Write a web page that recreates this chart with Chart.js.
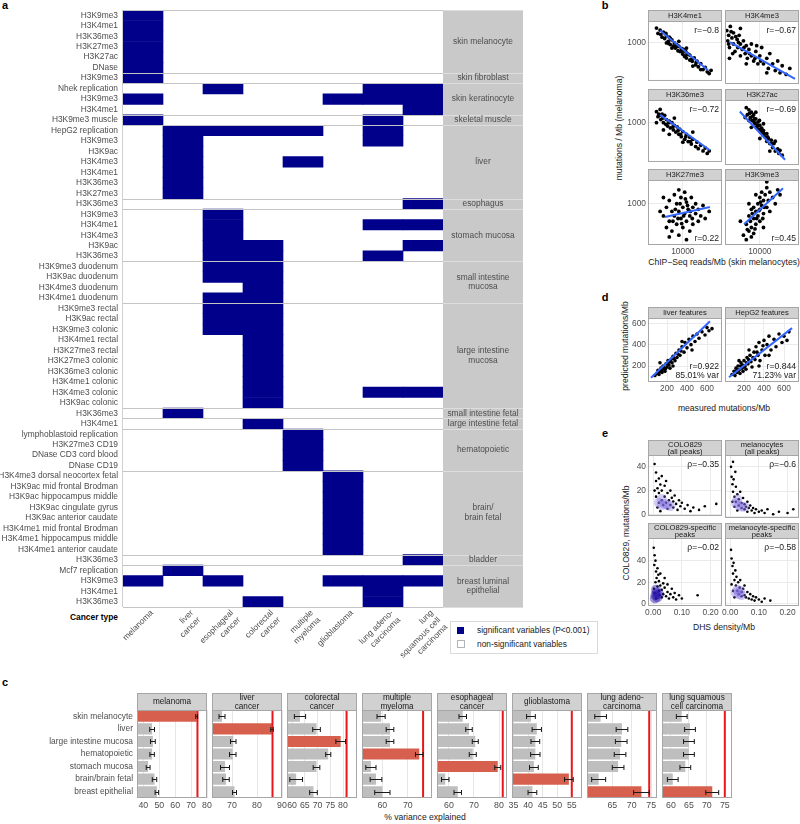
<!DOCTYPE html>
<html>
<head>
<meta charset="utf-8">
<script src="https://cdn.jsdelivr.net/npm/chart.js@4.4.1/dist/chart.umd.min.js"></script>
<style>
body { margin: 0; background: #fff; }
#page { position: relative; width: 800px; height: 824px; overflow: hidden; font-family: "Liberation Sans", Arial, sans-serif; color: #1a1a1a; }
#page canvas { position: absolute; }
.t { position: absolute; white-space: nowrap; font-size: 8.6px; transform: translate(-50%, -50%); }
.v { position: absolute; white-space: nowrap; font-size: 8.6px; transform: translate(-50%, -50%) rotate(-90deg); }
.lbl { position: absolute; white-space: nowrap; font-size: 8.4px; }
.letter { position: absolute; font-weight: bold; font-size: 11px; color: #000; transform: translate(-50%, -50%); }
</style>
</head>
<body>
<div id="page">
  <div class="letter" style="left:5px;top:5px">a</div>
  <div class="letter" style="left:605px;top:5px">b</div>
  <div class="letter" style="left:605px;top:297px">d</div>
  <div class="letter" style="left:605px;top:433px">e</div>
  <div class="letter" style="left:5px;top:682px">c</div>

  <div class="lbl" style="left:20px;width:98px;text-align:right;top:612px;font-weight:bold;color:#000">Cancer type</div>
  <div style="position:absolute;left:450px;top:621px;width:146px;height:31px;border:1px solid #d9d9d9"></div>
  <div style="position:absolute;left:457px;top:627px;width:7px;height:7px;background:#00008b"></div>
  <div class="lbl" style="left:477px;top:625px">significant variables (P&lt;0.001)</div>
  <div style="position:absolute;left:457px;top:640px;width:6px;height:6px;border:1px solid #b3b3b3"></div>
  <div class="lbl" style="left:477px;top:639px">non-significant variables</div>

  <div class="t" style="left:724px;top:262px">ChIP−Seq reads/Mb (skin melanocytes)</div>
  <div class="v" style="left:619px;top:128px">mutations / Mb (melanoma)</div>
  <div class="t" style="left:724px;top:408px">measured mutations/Mb</div>
  <div class="v" style="left:625px;top:346px">predicted mutations/Mb</div>
  <div class="t" style="left:724px;top:627px">DHS density/Mb</div>
  <div class="v" style="left:626px;top:533px">COLO829, mutations/Mb</div>
  <div class="t" style="left:425px;top:817px">% variance explained</div>
</div>
<script>
// ---------- panel a: significant features per cancer type ----------
const rowLabels = [
  'H3K9me3', 'H3K4me1', 'H3K36me3', 'H3K27me3', 'H3K27ac', 'DNase',
  'H3K9me3',
  'Nhek replication', 'H3K9me3', 'H3K4me1',
  'H3K9me3 muscle',
  'HepG2 replication', 'H3K9me3', 'H3K9ac', 'H3K4me3', 'H3K4me1', 'H3K36me3', 'H3K27me3',
  'H3K36me3',
  'H3K9me3', 'H3K4me1', 'H3K4me3', 'H3K9ac', 'H3K36me3',
  'H3K9me3 duodenum', 'H3K9ac duodenum', 'H3K4me3 duodenum', 'H3K4me1 duodenum',
  'H3K9me3 rectal', 'H3K9ac rectal', 'H3K9me3 colonic', 'H3K4me1 rectal', 'H3K27me3 rectal',
  'H3K27me3 colonic', 'H3K36me3 colonic', 'H3K4me1 colonic', 'H3K4me3 colonic', 'H3K9ac colonic',
  'H3K36me3',
  'H3K4me1',
  'lymphoblastoid replication', 'H3K27me3 CD19', 'DNase CD3 cord blood', 'DNase CD19',
  'H3K4me3 dorsal neocortex fetal', 'H3K9ac mid frontal Brodman', 'H3K9ac hippocampus middle',
  'H3K9ac cingulate gyrus', 'H3K9ac anterior caudate', 'H3K4me1 mid frontal Brodman',
  'H3K4me1 hippocampus middle', 'H3K4me1 anterior caudate',
  'H3K36me3',
  'Mcf7 replication', 'H3K9me3', 'H3K4me1', 'H3K36me3'
];
const groupNames = ['skin melanocyte', 'skin fibroblast', 'skin keratinocyte', 'skeletal muscle', 'liver',
  'esophagus', 'stomach mucosa', 'small intestine\nmucosa', 'large intestine\nmucosa', 'small intestine fetal',
  'large intestine fetal', 'hematopoietic', 'brain/\nbrain fetal', 'bladder', 'breast luminal\nepithelial'];
const groupSizes = [6, 1, 3, 1, 7, 1, 5, 4, 10, 1, 1, 4, 8, 1, 4];
const cancerTypes = [['melanoma'], ['liver', 'cancer'], ['esophageal', 'cancer'], ['colorectal', 'cancer'],
  ['multiple', 'myeloma'], ['glioblastoma'], ['lung adeno-', 'carcinoma'], ['lung', 'squamous cell', 'carcinoma']];
// row indices of significant variables, one list per cancer type
const sigRows = [
  [0, 1, 2, 3, 4, 5, 6, 8, 10, 54],
  [11, 12, 13, 14, 15, 16, 17, 38, 53],
  [7, 11, 19, 20, 21, 22, 23, 24, 25, 27, 28, 29, 30, 54],
  [11, 22, 23, 24, 25, 26, 27, 28, 29, 30, 31, 32, 33, 34, 35, 36, 37, 39, 56],
  [11, 14, 40, 41, 42, 43],
  [8, 44, 45, 46, 47, 48, 49, 50, 51, 54],
  [7, 8, 10, 11, 12, 20, 23, 36, 54, 55, 56],
  [7, 8, 9, 18, 20, 22, 36, 52, 54]
];

// ---------- panel b: ChIP-seq vs mutations ----------
const bTitles = ['H3K4me1', 'H3K4me3', 'H3K36me3', 'H3K27ac', 'H3K27me3', 'H3K9me3'];
const bR = ['r=−0.8', 'r=−0.67', 'r=−0.72', 'r=−0.69', 'r=0.22', 'r=0.45'];
const bK4me1 = [[5000,1600],[5200,1350],[5500,1500],[5800,1200],[6000,1400],[6200,1150],[6500,1250],[6800,1050],
  [7000,1200],[7200,950],[7500,1100],[7800,900],[8000,1000],[8200,850],[8500,950],[8800,780],[9000,900],[9300,760],
  [9600,840],[10000,700],[10000,820],[10500,650],[10800,760],[11000,620],[11500,700],[12000,580],[12000,680],
  [12800,560],[13500,620],[14000,500],[14500,560],[15000,470],[16000,520],[17000,430],[18000,460],[19000,400],
  [20000,380],[21000,420],[6500,1000],[9000,1050],[13000,480],[7500,850],[11000,850],[16000,430],
  [5600,1300],[6400,1350],[7200,1150],[8400,880],[9800,760],[11200,700],[12500,600],[14200,540],[6900,980],[10300,800]];
const bK4me3 = [[4200,1500],[4300,1100],[4400,1300],[4500,900],[4600,1700],[4800,1200],[5000,1000],[5000,1400],
  [5200,800],[5500,1150],[5600,900],[5800,1300],[6000,700],[6000,1000],[6300,850],[6500,1100],[6800,750],[7000,950],
  [7200,650],[7500,850],[8000,700],[8000,1000],[8500,600],[9000,800],[9500,550],[10000,700],[10500,900],[11000,550],
  [12000,650],[12500,480],[13000,750],[14000,550],[15000,450],[16000,600],[17000,420],[18000,520],[20000,400],
  [22000,480],[4500,650],[7000,550],[6000,1600],[12000,420],
  [4400,1000],[4700,1450],[5300,1250],[5700,1050],[6600,900],[7600,750],[8800,650],[10200,600],[4900,750],[9200,950]];
const bK36me3 = [[5000,1400],[5200,1200],[5500,1500],[5600,1100],[5800,1300],[6000,1000],[6200,1250],[6500,1100],
  [6700,900],[7000,1050],[7200,850],[7500,1000],[7800,800],[8000,920],[8300,750],[8600,880],[9000,700],[9200,820],
  [9600,650],[10000,760],[10500,600],[11000,700],[11500,560],[12000,640],[12500,520],[13000,600],[14000,480],
  [14500,550],[15000,450],[16000,500],[17000,420],[18000,460],[19000,390],[20000,420],[6000,800],[8000,1150],
  [10000,550],[13000,750],[5000,1000],[7000,700],
  [5300,1300],[5900,1150],[6400,950],[6900,1000],[7700,880],[8800,780],[10800,650],[12200,560],[5500,1250],[9400,700]];
const bK27ac = [[7000,1600],[7200,1300],[7500,1500],[7800,1200],[8000,1400],[8200,1100],[8500,1300],[8800,1000],
  [9000,1150],[9200,900],[9500,1050],[9800,850],[10000,950],[10200,780],[10500,880],[10800,720],[11000,820],
  [11500,680],[12000,750],[12000,600],[12500,650],[13000,560],[13500,620],[14000,500],[14500,560],[15000,450],
  [16000,480],[16500,420],[17000,460],[18000,400],[8000,900],[9000,1400],[11000,1000],[13000,450],[7500,1100],
  [10000,650],[6800,1200],[15000,600],
  [7600,1350],[8300,1250],[8700,1150],[9400,950],[10400,800],[11200,750],[12300,680],[13800,560],[8600,1050],[9900,1100]];
const bK27me3 = [[6000,700],[6500,500],[6500,900],[7000,600],[7000,1100],[7500,800],[7500,450],[8000,1300],
  [8000,700],[8500,550],[8500,1000],[9000,800],[9000,400],[9500,1200],[9500,650],[10000,900],[10000,500],
  [10500,1400],[10500,750],[11000,600],[11000,1050],[11500,850],[12000,450],[12000,700],[12500,1200],[13000,900],
  [13000,550],[14000,750],[14000,1000],[15000,600],[15000,850],[16000,700],[17000,950],[18000,650],[5500,800],
  [6000,1200],[20000,800],[7000,380],[9000,1500],[11000,350],
  [8200,850],[9300,1000],[10200,700],[11300,950],[12200,800],[9700,560],[8800,650],[12800,650],[10700,1150],[7700,600]];
const bK9me3 = [[6500,400],[7000,350],[7000,550],[7500,450],[7500,700],[8000,500],[8000,380],[8500,650],[8500,900],
  [9000,550],[9000,800],[9500,700],[9500,1000],[10000,600],[10000,1200],[10000,850],[10500,950],[10500,1400],
  [11000,750],[11000,1100],[11500,1300],[12000,900],[12000,1600],[12500,1100],[13000,1400],[13000,800],[14000,1200],
  [15000,1000],[16000,1500],[6000,600],[7500,1000],[8500,420],[9000,1300],[11000,500],[12000,1900],[17000,1300],
  [7200,470],[7800,600],[8200,750],[8800,480],[9200,650],[9800,820],[10200,1050],[10800,650],[11200,900],[8000,850]];
const bPoints = [bK4me1, bK4me3, bK36me3, bK27ac, bK27me3, bK9me3];
const bFits = [
  [[5500,1480],[19400,420]], [[4560,1060],[25200,350]], [[5500,1270],[20400,430]],
  [[5900,1430],[19400,350]], [[6260,680],[20400,910]], [[6600,550],[18400,1570]]
];

// ---------- panel d: predicted vs measured ----------
const dTitles = ['liver features', 'HepG2 features'];
const dNotes = [['r=0.922', '85.01% var'], ['r=0.844', '71.23% var']];
const dLiver = [[80,110],[100,130],[110,160],[120,120],[130,150],[140,180],[150,140],[160,200],[170,170],[180,150],
  [190,220],[200,190],[210,250],[220,210],[230,180],[240,260],[250,230],[260,290],[280,250],[290,320],[300,280],
  [320,350],[330,300],[350,380],[370,330],[380,420],[400,370],[420,450],[440,400],[460,480],[480,430],[500,500],
  [520,460],[550,520],[580,490],[600,560],[620,530],[650,550],[130,230],[260,200],[350,430],[450,350],
  [120,145],[145,160],[165,185],[185,175],[205,220],[225,240],[250,270],[270,270],[310,310],[340,340]];
const dHepG2 = [[80,120],[100,150],[110,110],[120,180],[130,140],[140,200],[150,160],[160,130],[170,230],[180,180],
  [190,150],[200,250],[210,200],[220,170],[230,280],[240,220],[260,300],[270,240],[280,190],[300,330],[310,260],
  [320,380],[340,300],[350,420],[360,250],[380,350],[400,440],[410,300],[430,400],[450,480],[470,350],[500,450],
  [520,380],[550,500],[580,420],[600,480],[630,440],[650,520],[250,350],[350,200],[450,300],[150,250],
  [120,150],[140,165],[165,200],[185,210],[205,190],[225,230],[245,260],[290,280],[330,330],[390,390]];
const dPoints = [dLiver, dHepG2];
const dFits = [[[40,90],[630,620]], [[50,95],[680,555]]];

// ---------- panel e: DHS density vs mutations ----------
const eTitles = [['COLO829', '(all peaks)'], ['melanocytes', '(all peaks)'], ['COLO829-specific', 'peaks'], ['melanocyte-specific', 'peaks']];
const eRho = ['ρ=−0.35', 'ρ=−0.6', 'ρ=−0.02', 'ρ=−0.58'];
const eColoAll = [[0.005,42],[0.01,35],[0.01,28],[0.015,22],[0.02,30],[0.02,18],[0.025,25],[0.03,12],[0.03,20],
  [0.035,8],[0.04,15],[0.04,24],[0.045,10],[0.05,18],[0.05,5],[0.055,12],[0.06,8],[0.06,20],[0.065,14],[0.07,6],
  [0.07,11],[0.075,16],[0.08,9],[0.085,4],[0.09,12],[0.095,7],[0.1,10],[0.11,5],[0.12,8],[0.13,3],[0.14,6],
  [0.16,4],[0.18,7],[0.015,6],[0.02,10],[0.025,3],[0.01,15],[0.005,20],[0.03,32],[0.045,28],[0.22,9]];
const eMelAll = [[0.003,40],[0.005,32],[0.008,26],[0.01,20],[0.012,30],[0.015,16],[0.02,24],[0.02,12],[0.025,18],
  [0.03,9],[0.03,14],[0.035,20],[0.04,7],[0.04,11],[0.045,15],[0.05,6],[0.05,10],[0.055,8],[0.06,12],[0.06,4],
  [0.065,7],[0.07,9],[0.075,5],[0.08,7],[0.085,3],[0.09,6],[0.1,4],[0.11,5],[0.12,3],[0.13,6],[0.15,2],[0.17,4],
  [0.2,3],[0.22,6],[0.008,12],[0.015,8],[0.025,5],[0.01,44],[0.018,36]];
const eColoSpec = [[0.002,52],[0.005,45],[0.004,36],[0.008,40],[0.01,30],[0.012,24],[0.008,20],[0.015,33],[0.015,16],
  [0.018,27],[0.02,12],[0.02,21],[0.022,8],[0.025,17],[0.025,28],[0.03,6],[0.03,13],[0.035,19],[0.035,9],[0.04,15],
  [0.04,24],[0.045,7],[0.05,11],[0.05,18],[0.055,5],[0.06,9],[0.065,14],[0.07,6],[0.075,10],[0.08,4],[0.09,8],
  [0.1,5],[0.155,8],[0.005,10],[0.01,5],[0.003,14]];
const eMelSpec = [[0.003,50],[0.005,42],[0.008,35],[0.01,28],[0.012,38],[0.015,22],[0.018,31],[0.02,17],[0.022,25],
  [0.025,12],[0.028,20],[0.03,9],[0.033,15],[0.035,22],[0.04,11],[0.04,7],[0.045,14],[0.05,8],[0.05,17],[0.055,6],
  [0.06,11],[0.065,5],[0.07,9],[0.075,4],[0.08,7],[0.085,3],[0.09,6],[0.1,4],[0.11,2],[0.12,5],[0.14,3],[0.01,12],
  [0.015,6],[0.005,18]];
// dense cores (2d density shading)
const eColoAllCore = [[0.02,10],[0.03,8],[0.04,9],[0.05,8],[0.03,13],[0.06,7]];
const eMelAllCore = [[0.02,11],[0.03,9],[0.04,8],[0.05,8],[0.025,14]];
const eColoSpecCore = [[0.008,8],[0.012,10],[0.015,6],[0.01,13],[0.02,9],[0.006,5]];
const eMelSpecCore = [[0.02,10],[0.03,9],[0.04,8],[0.035,12],[0.025,13]];
const ePoints = [eColoAll, eMelAll, eColoSpec, eMelSpec];
const eCores = [eColoAllCore, eMelAllCore, eColoSpecCore, eMelSpecCore];

// ---------- panel c: % variance explained ----------
const cTissues = ['skin melanocyte', 'liver', 'large intestine mucosa', 'hematopoietic', 'stomach mucosa', 'brain/brain fetal', 'breast epithelial'];
const cCancers = [['melanoma'], ['liver', 'cancer'], ['colorectal', 'cancer'], ['multiple', 'myeloma'],
  ['esophageal', 'cancer'], ['glioblastoma'], ['lung adeno-', 'carcinoma'], ['lung squamous', 'cell carcinoma']];
const cMelanoma = [73.5, 45.5, 46, 45.5, 43, 47, 48.5];
const cLiver = [66, 86, 70.5, 70.3, 67.2, 67.6, 71];
const cColorectal = [63.1, 69.6, 79.1, 74.2, 69.6, 61.6, 68.4];
const cMyeloma = [59.5, 63, 63, 74.5, 55.5, 57.5, 60];
const cEsophageal = [65.5, 68, 70.5, 69.5, 79.5, 58.5, 63.5];
const cGlioblastoma = [41, 43, 42.5, 42.5, 42, 54, 41.5];
const cLungAdeno = [62, 67.5, 67.3, 67, 66.5, 61.5, 72.5];
const cLungSquamous = [63, 65.3, 65, 65, 64, 60.5, 71.5];
const cValues = [cMelanoma, cLiver, cColorectal, cMyeloma, cEsophageal, cGlioblastoma, cLungAdeno, cLungSquamous];
const cErrors = [
  [0.6, 1.5, 1.5, 1.4, 1.2, 1.4, 1.1],
  [1.2, 0.5, 1.1, 1.3, 1.8, 1.3, 0.8],
  [2.2, 1.5, 1.9, 1.0, 1.3, 2.5, 1.5],
  [1.6, 1.5, 1.5, 1.5, 2.0, 2.3, 3.0],
  [1.5, 1.3, 1.2, 1.4, 1.2, 1.5, 1.5],
  [1.5, 1.6, 1.5, 1.6, 1.5, 1.5, 1.5],
  [1.5, 1.5, 1.5, 1.5, 1.5, 1.8, 2.0],
  [1.5, 1.5, 1.5, 1.5, 1.5, 1.5, 1.8]
];
const cHighlight = [0, 1, 2, 3, 4, 5, 6, 6];
const cFull = [74, 86.2, 81.4, 76, 81.5, 55, 74.5, 75];
const cRange = [[36, 80], [62, 90], [58, 85.5], [52, 79.5], [55.2, 83.2], [34.5, 58.5], [58.5, 76.5], [57.5, 77]];
const cTicks = [[40, 50, 60, 70, 80], [70, 80, 90], [60, 65, 70, 75, 80], [60, 70], [60, 70, 80], [35, 40, 45, 50, 55], [65, 70, 75], [60, 65, 70, 75]];

// ---------- drawing ----------
const FONT = '"Liberation Sans", Arial, sans-serif';
Chart.defaults.font.family = FONT;
Chart.defaults.font.size = 8.4;
Chart.defaults.color = '#4d4d4d';

function addCanvas(x, y, w, h) {
  const c = document.createElement('canvas');
  c.width = w; c.height = h;
  c.style.left = x + 'px'; c.style.top = y + 'px';
  c.style.width = w + 'px'; c.style.height = h + 'px';
  document.getElementById('page').appendChild(c);
  return c;
}

const tissueStrip = {
  id: 'tissueStrip',
  afterDatasetsDraw(chart) {
    const ctx = chart.ctx, a = chart.chartArea;
    const rowH = (a.bottom - a.top) / rowLabels.length;
    ctx.save();
    ctx.fillStyle = '#c9c9c9';
    ctx.fillRect(a.right, a.top, 80, a.bottom - a.top);
    ctx.lineWidth = 1;
    ctx.strokeStyle = '#cfcfcf';
    ctx.beginPath(); ctx.moveTo(a.left - 0.5, a.top); ctx.lineTo(a.left - 0.5, a.bottom); ctx.stroke();
    let r = 0;
    [0].concat(groupSizes).forEach(n => {
      r += n;
      const yy = Math.round(a.top + r * rowH) + 0.5;
      ctx.strokeStyle = '#c4c4c4';
      ctx.beginPath(); ctx.moveTo(a.left, yy); ctx.lineTo(a.right, yy); ctx.stroke();
      ctx.strokeStyle = '#dddddd';
      ctx.beginPath(); ctx.moveTo(a.right, yy); ctx.lineTo(a.right + 80, yy); ctx.stroke();
    });
    ctx.fillStyle = '#4d4d4d';
    ctx.font = '8.4px ' + FONT;
    ctx.textAlign = 'center';
    ctx.textBaseline = 'middle';
    r = 0;
    groupSizes.forEach((n, g) => {
      const mid = a.top + (r + n / 2) * rowH;
      const lines = groupNames[g].split('\n');
      lines.forEach((t, k) => ctx.fillText(t, a.right + 40, mid + (k - (lines.length - 1) / 2) * 9.5));
      r += n;
    });
    ctx.restore();
  }
};

new Chart(addCanvas(0, 0, 530, 662), {
  type: 'bar',
  data: {
    labels: rowLabels,
    datasets: sigRows.map((rows, c) => ({
      data: rowLabels.map((_, r) => rows.includes(r) ? [c, c + 1] : null),
      backgroundColor: '#00008b', borderWidth: 0, barPercentage: 1, categoryPercentage: 1, grouped: false
    }))
  },
  options: {
    indexAxis: 'y', responsive: false, animation: false, devicePixelRatio: 1,
    layout: { padding: { top: 10, right: 87, left: 0, bottom: 0 } },
    plugins: { legend: { display: false }, tooltip: { enabled: false } },
    scales: {
      x: {
        type: 'linear', min: 0, max: 8,
        grid: { display: false, drawTicks: false }, border: { display: false },
        afterBuildTicks: s => { s.ticks = cancerTypes.map((_, i) => ({ value: i + 0.5 })); },
        ticks: { autoSkip: false, minRotation: 45, maxRotation: 45, padding: 1, labelOffset: 9,
          callback: (v, i) => cancerTypes[i] },
        afterFit: s => { s.height = 55; }
      },
      y: {
        grid: { display: false, drawTicks: false }, border: { display: false },
        ticks: { autoSkip: false, padding: 5 },
        afterFit: s => { s.width = 123; }
      }
    }
  },
  plugins: [tissueStrip]
});

function facetDeco(o) {
  return {
    id: 'facetDeco',
    afterDraw(chart) {
      const ctx = chart.ctx, a = chart.chartArea;
      ctx.save();
      if (o.extra) o.extra(chart, ctx);
      ctx.lineWidth = 1;
      ctx.strokeStyle = '#a6a6a6';
      ctx.strokeRect(a.left + 0.5, a.top + 0.5, a.right - a.left - 1, a.bottom - a.top - 1);
      const sy = a.top - o.stripH;
      ctx.fillStyle = '#d1d1d1';
      ctx.fillRect(a.left, sy, a.right - a.left, o.stripH);
      ctx.strokeRect(a.left + 0.5, sy + 0.5, a.right - a.left - 1, o.stripH);
      ctx.fillStyle = '#1a1a1a';
      ctx.font = (o.stripFont || 7.6) + 'px ' + FONT;
      ctx.textAlign = 'center';
      ctx.textBaseline = 'middle';
      const lh = o.stripLine || 8;
      o.title.forEach((t, k) => ctx.fillText(t, (a.left + a.right) / 2, sy + o.stripH / 2 + 0.5 + (k - (o.title.length - 1) / 2) * lh));
      if (o.notes) {
        ctx.font = '8.6px ' + FONT;
        ctx.textAlign = 'right';
        const n = o.notes.length;
        o.notes.forEach((t, k) => {
          const y = o.noteBottom ? a.bottom - 6 - (n - 1 - k) * 9 : a.top + 10 + k * 9;
          ctx.fillText(t, a.right - 3, y);
        });
      }
      ctx.restore();
    }
  };
}

function facet(o) {
  const side = 8;
  const cx = o.L - o.padL, cy = o.T - o.stripH - 1;
  const cw = o.R + side + 1 - cx, ch = o.B + o.padB - cy;
  o.x.afterFit = s => { s.height = o.padB; };
  o.y.afterFit = s => { s.width = o.padL; };
  return new Chart(addCanvas(cx, cy, cw, ch), {
    type: o.type,
    data: o.data,
    options: {
      indexAxis: o.indexAxis || 'x',
      responsive: false, animation: false, devicePixelRatio: 1,
      layout: { padding: { top: o.stripH + 1, right: side + 1, left: 0, bottom: 0 } },
      plugins: { legend: { display: false }, tooltip: { enabled: false } },
      scales: { x: o.x, y: o.y }
    },
    plugins: [facetDeco(o)]
  });
}

function axis(type, min, max, ticks, show, fmt) {
  return {
    type, min, max,
    afterBuildTicks: s => { s.ticks = ticks.map(v => ({ value: v })); },
    ticks: { display: show, padding: 2, autoSkip: false, maxRotation: 0, callback: fmt || (v => String(v)) },
    grid: { color: '#ebebeb', drawTicks: false },
    border: { display: false }
  };
}

// panel b
const bCols = [[648, 722], [725, 799]];
const bRows = [[21, 84], [100, 165], [180, 245]];
bTitles.forEach((t, i) => {
  const col = i % 2, row = Math.floor(i / 2);
  facet({
    L: bCols[col][0], R: bCols[col][1], T: bRows[row][0], B: bRows[row][1],
    padL: col === 0 ? 30 : 8, padB: row === 2 ? 14 : 4, stripH: 11,
    type: 'scatter',
    data: { datasets: [
      { data: bFits[i], showLine: true, borderColor: '#3366ff', borderWidth: 2, pointRadius: 0 },
      { data: bPoints[i], pointRadius: 1.9, backgroundColor: '#000', borderWidth: 0 }
    ] },
    x: axis('logarithmic', 4000, 28000, [10000], row === 2),
    y: axis('logarithmic', 300, 2000, [1000], col === 0),
    title: [t], notes: [bR[i]], noteBottom: row === 2
  });
});

// panel d
dTitles.forEach((t, i) => {
  facet({
    L: bCols[i][0], R: bCols[i][1], T: 318, B: 382,
    padL: i === 0 ? 30 : 8, padB: 14, stripH: 11,
    type: 'scatter',
    data: { datasets: [
      { data: dFits[i], showLine: true, borderColor: '#3366ff', borderWidth: 2, pointRadius: 0 },
      { data: dPoints[i], pointRadius: 1.8, backgroundColor: '#000', borderWidth: 0 }
    ] },
    x: axis('linear', 10, 750, [200, 400, 600], true),
    y: axis('linear', 50, 650, [200, 400, 600], i === 0),
    title: [t], notes: dNotes[i], noteBottom: true
  });
});

// panel e
const eRows = [[455, 519], [538, 606]];
const eYRange = [[-1, 49.5], [-2, 61]];
eTitles.forEach((t, i) => {
  const col = i % 2, row = Math.floor(i / 2);
  facet({
    L: bCols[col][0], R: bCols[col][1], T: eRows[row][0], B: eRows[row][1],
    padL: col === 0 ? 30 : 8, padB: row === 1 ? 14 : 4, stripH: 15, stripLine: 7,
    type: 'scatter',
    data: { datasets: [
      { data: eCores[i], pointRadius: 5, backgroundColor: i === 2 ? 'rgba(40,20,170,0.45)' : 'rgba(130,110,225,0.35)', borderWidth: 0, clip: 0 },
      { data: ePoints[i], pointRadius: 1.3, backgroundColor: '#000', borderWidth: 0 }
    ] },
    x: axis('linear', -0.018, 0.24, [0, 0.1, 0.2], row === 1, v => v.toFixed(2)),
    y: axis('linear', eYRange[row][0], eYRange[row][1], [0, 20, 40], col === 0),
    title: t, notes: [eRho[i]]
  });
});

// panel c
cCancers.forEach((t, i) => {
  const L = 137 + i * 75, vals = cValues[i], errs = cErrors[i];
  const x = axis('linear', cRange[i][0], cRange[i][1], cTicks[i], true);
  x.grid.color = '#e6e6e6';
  x.ticks.font = { size: 8.8 };
  facet({
    L, R: L + 70, T: 710, B: 798,
    padL: i === 0 ? 137 : 8, padB: 14, stripH: 17, stripFont: 8.2, stripLine: 8.5,
    type: 'bar', indexAxis: 'y',
    data: {
      labels: cTissues,
      datasets: [{
        data: vals, clip: 0,
        backgroundColor: vals.map((_, k) => k === cHighlight[i] ? '#d6604d' : '#bebebe'),
        borderWidth: 0, barPercentage: 0.88, categoryPercentage: 1
      }]
    },
    x,
    y: {
      type: 'category', grid: { display: false, drawTicks: false }, border: { display: false },
      ticks: { display: i === 0, padding: 4, autoSkip: false }
    },
    title: t,
    extra: (chart, ctx) => {
      const xs = chart.scales.x, ys = chart.scales.y, a = chart.chartArea;
      const fx = xs.getPixelForValue(cFull[i]);
      ctx.strokeStyle = '#e8161b'; ctx.lineWidth = 2;
      ctx.beginPath(); ctx.moveTo(fx, a.top); ctx.lineTo(fx, a.bottom); ctx.stroke();
      ctx.strokeStyle = '#1a1a1a'; ctx.lineWidth = 1;
      vals.forEach((v, k) => {
        const y = Math.round(ys.getPixelForValue(k)) + 0.5;
        const x0 = xs.getPixelForValue(v - errs[k]), x1 = xs.getPixelForValue(v + errs[k]);
        ctx.beginPath();
        ctx.moveTo(x0, y); ctx.lineTo(x1, y);
        ctx.moveTo(x0, y - 2.5); ctx.lineTo(x0, y + 2.5);
        ctx.moveTo(x1, y - 2.5); ctx.lineTo(x1, y + 2.5);
        ctx.stroke();
      });
    }
  });
});
</script>
</body>
</html>
